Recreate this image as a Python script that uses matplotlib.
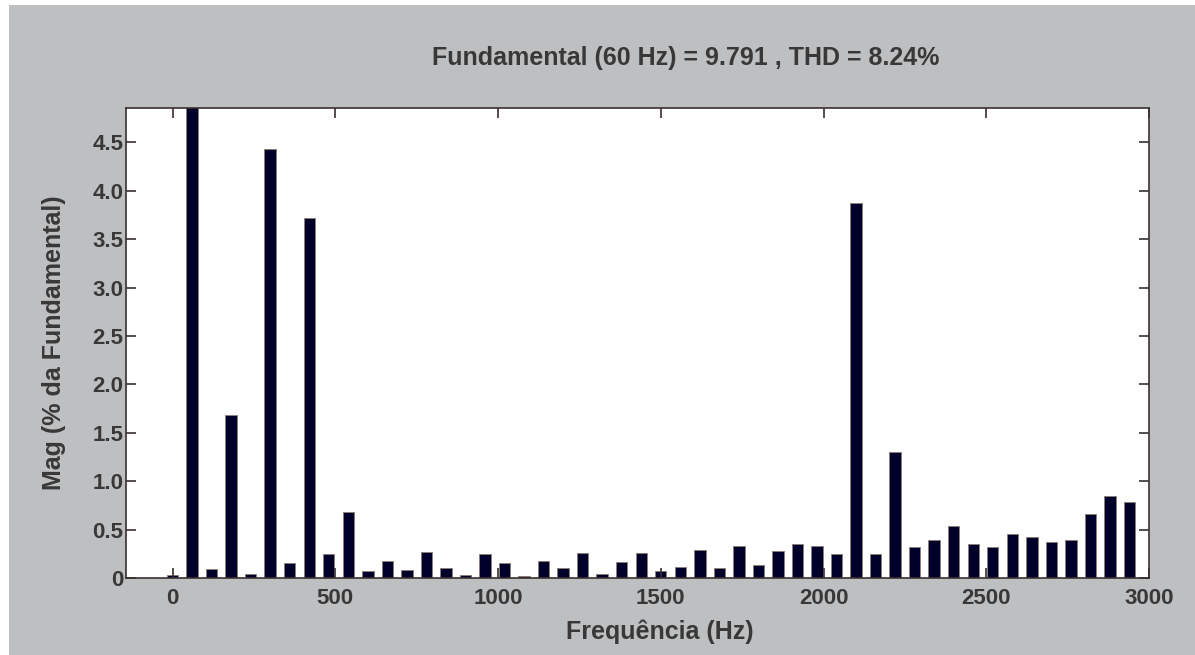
import matplotlib
matplotlib.use("Agg")
import matplotlib.pyplot as plt
from matplotlib.patches import Rectangle

# ---- data ----
freqs = [0, 60, 120, 180, 240, 300, 360, 420, 480, 540,
         600, 660, 720, 780, 840, 900, 960, 1020, 1080, 1140,
         1200, 1260, 1320, 1380, 1440, 1500, 1560, 1620, 1680, 1740,
         1800, 1860, 1920, 1980, 2040, 2100, 2160, 2220, 2280, 2340,
         2400, 2460, 2520, 2580, 2640, 2700, 2760, 2820, 2880, 2940]
mags = [0.03, 100.0, 0.09, 1.68, 0.045, 4.43, 0.16, 3.72, 0.245, 0.68,
        0.073, 0.172, 0.087, 0.272, 0.107, 0.028, 0.245, 0.159, 0.018, 0.172,
        0.105, 0.26, 0.045, 0.162, 0.262, 0.076, 0.117, 0.29, 0.103, 0.331,
        0.134, 0.276, 0.348, 0.331, 0.248, 3.878, 0.245, 1.303, 0.321, 0.39,
        0.541, 0.348, 0.321, 0.459, 0.424, 0.376, 0.39, 0.666, 0.848, 0.783]
xticks = [0, 500, 1000, 1500, 2000, 2500, 3000]
xticklabels = ["0", "500", "1000", "1500", "2000", "2500", "3000"]
yticks = [0, 0.5, 1.0, 1.5, 2.0, 2.5, 3.0, 3.5, 4.0, 4.5]
yticklabels = ["0", "0.5", "1.0", "1.5", "2.0", "2.5", "3.0", "3.5", "4.0", "4.5"]
title = "Fundamental (60 Hz) = 9.791 , THD = 8.24%"
xlabel = "Frequência (Hz)"
ylabel = "Mag (% da Fundamental)"

plt.rcParams['font.family'] = ['Liberation Sans', 'DejaVu Sans']
txt = '#383838'
W, H = 1195, 655
fig = plt.figure(figsize=(W / 100, H / 100), dpi=100, facecolor='white')
fig.patches.append(Rectangle((9 / W, 0), 1 - 9 / W, 1 - 5 / H, transform=fig.transFigure,
                             facecolor='#bebfc1', edgecolor='none', zorder=-10))

ax = fig.add_axes([126 / W, 1 - 578 / H, (1149 - 126) / W, (578 - 108) / H])
ax.set_zorder(5)
ax.set_facecolor('white')
ax.bar(freqs, mags, width=35, color='#00002a', edgecolor='#8a7f78', linewidth=0.7, zorder=1)
ax.set_xlim(-143, 3000)
ax.set_ylim(0, 4.855)
ax.set_xticks(xticks)
ax.set_xticklabels(xticklabels)
ax.set_yticks(yticks)
ax.set_yticklabels(yticklabels)
ax.tick_params(direction='in', length=7, width=1.2, color='#3a3030',
               top=True, right=True, labelsize=16, labelcolor=txt)
ax.tick_params(axis='x', pad=7)
ax.tick_params(axis='y', pad=2)
for lab in ax.get_xticklabels() + ax.get_yticklabels():
    lab.set_fontweight('bold')
for s in ax.spines.values():
    s.set_color('#3a3030')
    s.set_linewidth(1.2)

fig.text(686 / W, 1 - 58 / H, title, ha='center', va='center', fontsize=18,
         fontweight='bold', color=txt)
fig.text(660 / W, 1 - 632 / H, xlabel, ha='center', va='center', fontsize=18,
         fontweight='bold', color=txt)
fig.text(54 / W, 1 - 343 / H, ylabel, ha='center', va='center', rotation=90,
         fontsize=18, fontweight='bold', color=txt)

fig.savefig('out.png', dpi=100, facecolor=fig.get_facecolor())
